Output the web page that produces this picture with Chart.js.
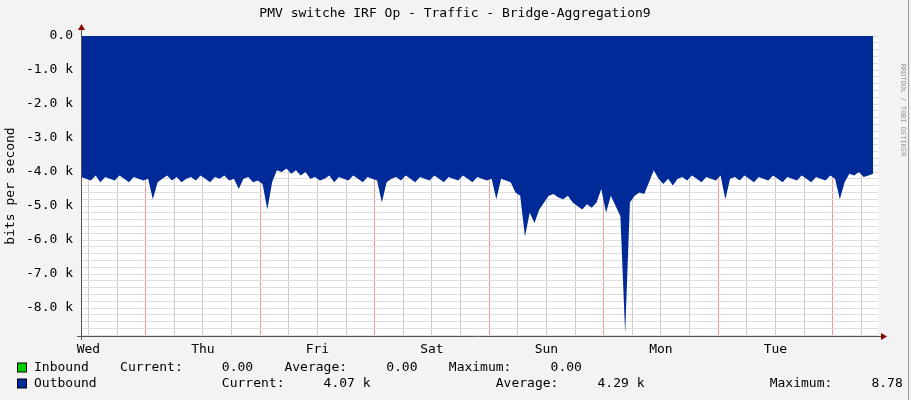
<!DOCTYPE html>
<html><head><meta charset="utf-8">
<script src="https://cdn.jsdelivr.net/npm/chart.js@4/dist/chart.umd.min.js"></script>
<style>html,body{margin:0;padding:0;background:#f3f3f3}#w{width:911px;height:400px}</style>
</head><body><div id="w"><canvas id="c"></canvas></div>
<script>
// hours relative to Thursday 00:00, one sample per hour
const hourStart = -13.5;
const outbound = [
-4.15,-4.2,-4.25,-4.1,-4.3,-4.15,-4.2,-4.25,-4.1,-4.2,-4.3,-4.15,-4.2,-4.25,-4.2,
-4.8,-4.3,
-4.2,-4.1,-4.25,-4.15,-4.3,-4.2,-4.15,-4.25,-4.1,-4.2,-4.3,-4.15,-4.2,-4.1,-4.25,-4.2,
-4.5,-4.2,-4.15,-4.3,-4.25,-4.35,-5.1,-4.3,
-3.95,-4.0,-3.9,-4.05,-3.95,-4.1,-4.0,
-4.2,-4.15,-4.25,-4.2,-4.1,-4.3,-4.15,-4.2,-4.25,-4.1,-4.2,-4.3,-4.15,-4.2,-4.25,
-4.9,-4.3,
-4.2,-4.15,-4.25,-4.1,-4.2,-4.3,-4.15,-4.2,-4.25,-4.1,-4.2,-4.3,-4.15,-4.2,-4.25,-4.1,-4.2,-4.3,-4.15,-4.2,-4.25,-4.2,
-4.8,-4.2,-4.25,-4.3,
-4.6,-4.7,-5.9,-5.2,-5.5,-5.1,-4.9,-4.7,-4.65,-4.75,-4.8,-4.7,-4.9,-5.0,-5.1,-4.95,-5.05,-4.9,-4.5,-5.2,-4.7,-5.0,-5.3,-8.75,-4.9,-4.7,-4.6,-4.65,-4.3,-3.95,-4.2,-4.35,-4.2,-4.4,
-4.2,-4.15,-4.25,-4.1,-4.2,-4.3,-4.15,-4.2,-4.25,-4.1,
-4.8,-4.2,
-4.15,-4.25,-4.1,-4.2,-4.3,-4.15,-4.2,-4.25,-4.1,-4.2,-4.3,-4.15,-4.2,-4.25,-4.1,-4.2,-4.3,-4.15,-4.2,-4.25,-4.1,-4.2,
-4.8,-4.3,
-4.05,-4.1,-4.0,-4.15,-4.1,-4.05
];
const dayNames = ['Wed','Thu','Fri','Sat','Sun','Mon','Tue'];
const yTicks = ['0.0','-1.0 k','-2.0 k','-3.0 k','-4.0 k','-5.0 k','-6.0 k','-7.0 k','-8.0 k'];
const title = 'PMV switche IRF Op - Traffic - Bridge-Aggregation9';
const legendRows = [
  {name:'Inbound', color:'#00CF00', text:'Inbound    Current:     0.00    Average:     0.00    Maximum:     0.00'},
  {name:'Outbound', color:'#002A97', text:'Outbound                Current:     4.07 k                Average:     4.29 k                Maximum:     8.78 k'}
];
const pts = outbound.map((v,i)=>({x:hourStart+i, y:v*1000}));
const mono = '"DejaVu Sans Mono", monospace';

const bg = {
  id:'bg',
  beforeDraw(ch){const c=ch.ctx,a=ch.chartArea;c.save();c.fillStyle='#fff';c.fillRect(a.left,a.top,a.right-a.left,a.bottom-a.top);c.restore();}
};
const deco = {
  id:'deco',
  afterDraw(ch){
    const c = ch.ctx, a = ch.chartArea;
    c.save();
    c.fillStyle='#000'; c.font='13px '+mono; c.textAlign='center'; c.textBaseline='middle';
    c.fillText(title, 455, 14);
    c.strokeStyle='#555'; c.lineWidth=1;
    c.beginPath(); c.moveTo(a.left+0.5, a.bottom+4); c.lineTo(a.left+0.5, a.top-8);
    c.moveTo(a.left-4, a.bottom+0.5); c.lineTo(a.right+4, a.bottom+0.5); c.stroke();
    c.fillStyle='#800'; c.beginPath(); c.moveTo(a.left-3,a.top-6);c.lineTo(a.left+4,a.top-6);c.lineTo(a.left+0.5,a.top-12);c.fill();
    c.beginPath(); c.moveTo(a.right+3,a.bottom-3);c.lineTo(a.right+3,a.bottom+4);c.lineTo(a.right+9,a.bottom+0.5);c.fill();
    c.fillStyle='#000'; c.translate(11, (a.top+a.bottom)/2); c.rotate(-Math.PI/2);
    c.fillText('bits per second',0,0); c.setTransform(1,0,0,1,0,0);
    c.textAlign='left'; c.font='13px '+mono;
    legendRows.forEach((r,i)=>{
      const y = 368 + i*16;
      c.fillStyle=r.color; c.fillRect(17.5,y-5,9,9); c.strokeStyle='#000'; c.strokeRect(17.5,y-5,9,9);
      c.fillStyle='#000'; c.fillText(r.text, 34, y);
    });
    c.fillStyle='#999'; c.font='7px '+mono; c.translate(903,110); c.rotate(Math.PI/2); c.textAlign='center';
    c.fillText('RRDTOOL / TOBI OETIKER',0,0); c.setTransform(1,0,0,1,0,0);
    c.strokeStyle='#999'; c.beginPath(); c.moveTo(908.5,0); c.lineTo(908.5,400); c.stroke();
    c.restore();
  }
};

new Chart(document.getElementById('c'), {
  type:'line',
  data:{datasets:[{data:pts, borderWidth:0, pointRadius:0, fill:'origin', backgroundColor:'#002A97', borderColor:'#002A97', tension:0}]},
  options:{
    responsive:true, maintainAspectRatio:false, animation:false,
    layout:{padding:{top:36,right:33,left:0,bottom:0}},
    plugins:{legend:{display:false}, tooltip:{enabled:false}},
    scales:{
      x:{type:'linear', min:-13.56, max:153.5,
        afterFit(s){s.height=64;},
        afterBuildTicks(s){const t=[];for(let v=-12;v<=150;v+=6){t.push({value:v});} s.ticks=t;},
        border:{display:false},
        grid:{color:ctx=>((ctx.tick&&Math.round(ctx.tick.value)%24===0)?'rgba(240,120,120,0.8)':'#ccc'), lineWidth:1, drawTicks:false},
        ticks:{autoSkip:false, maxRotation:0, padding:6, color:'#000', font:{family:mono,size:13},
          callback:(v)=>{const m=((v%24)+24)%24; if(m!==12) return ''; return dayNames[Math.round((v+12)/24)]||'';}}
      },
      y:{min:-8823, max:0,
        afterFit(s){s.width=81;},
        border:{display:false},
        grid:{color:'#ddd', lineWidth:1, drawTicks:false},
        afterBuildTicks(s){const t=[];for(let k=0;k<=44;k++){t.push({value:-k*200});} s.ticks=t;},
        ticks:{autoSkip:false, padding:8, color:'#000', font:{family:mono,size:13},
          callback:(v)=>{const k=Math.round(-v); return k%1000===0? yTicks[k/1000] : '';}}
      }
    }
  },
  plugins:[bg,deco]
});
</script></body></html>
